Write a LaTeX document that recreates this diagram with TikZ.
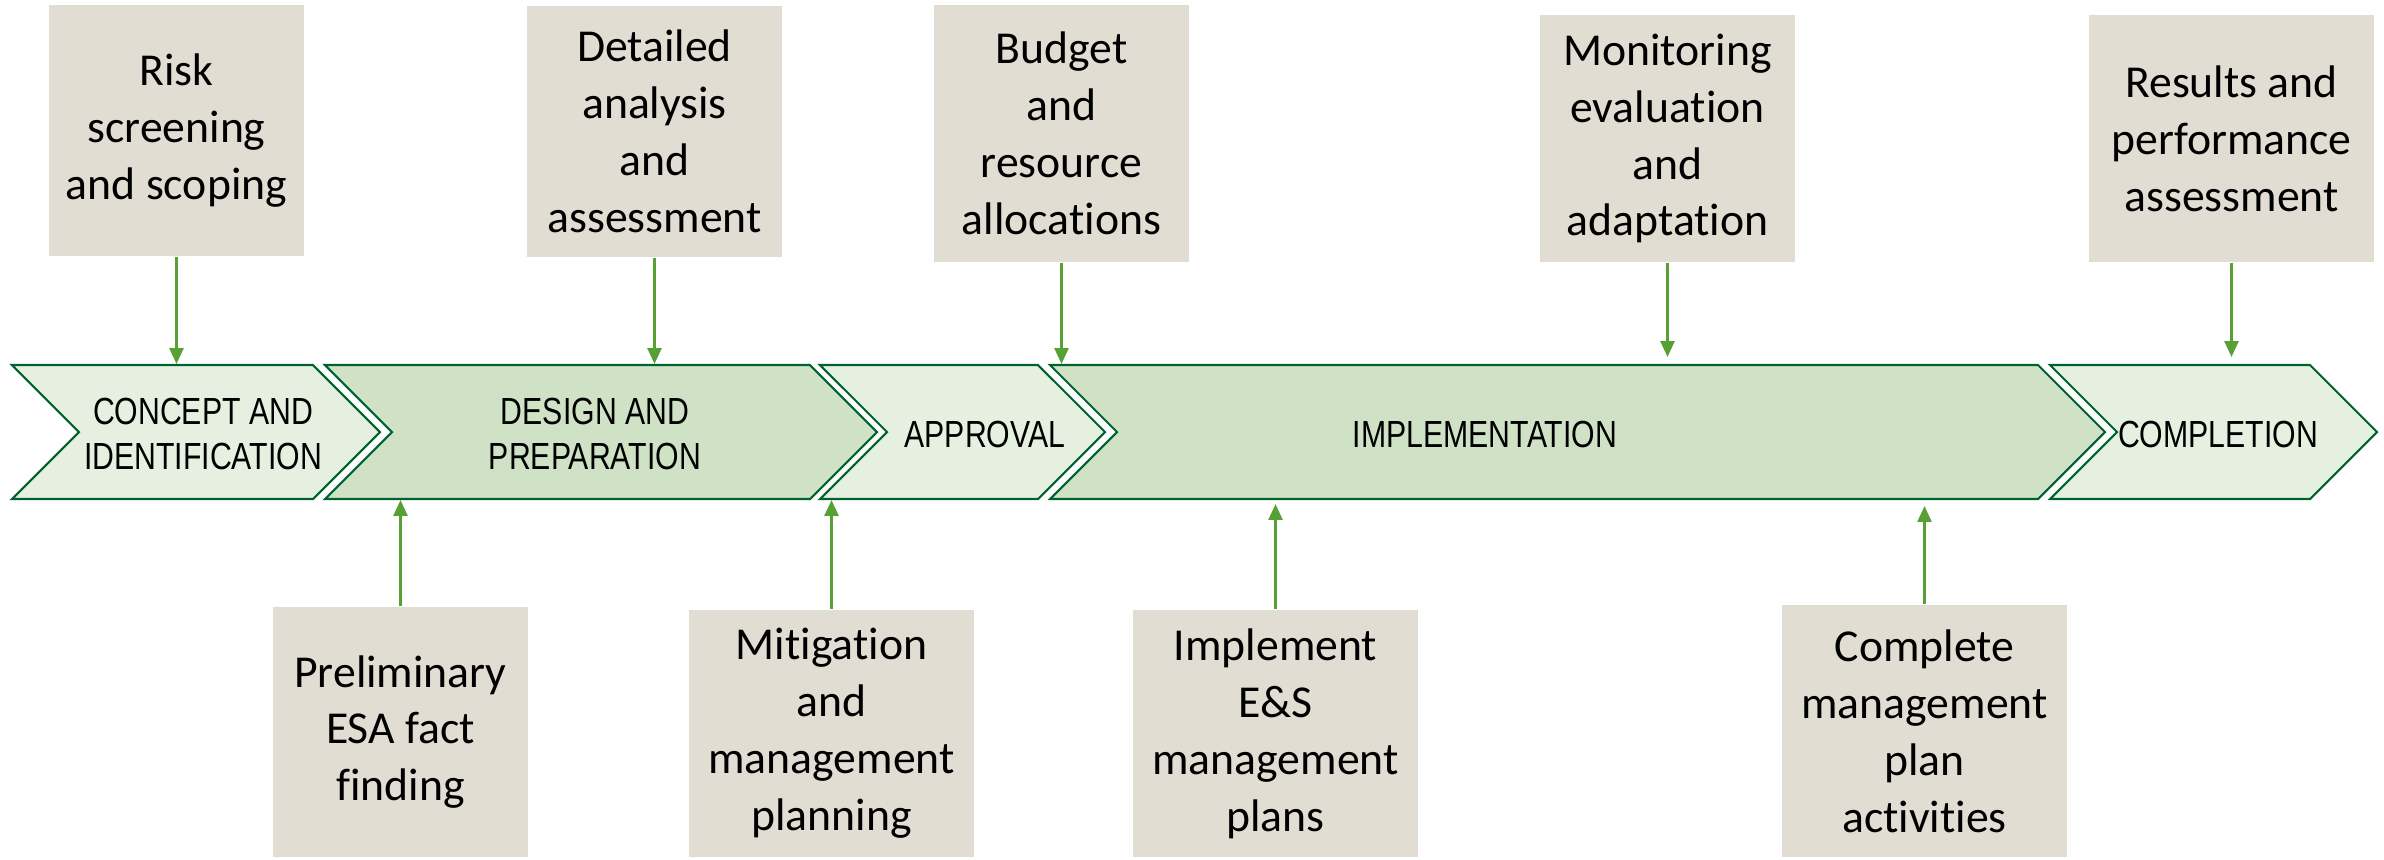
\documentclass[tikz,border=0pt]{standalone}
\usepackage{fontspec}
\setmainfont{Carlito}[Ligatures=NoCommon]
\newfontfamily\chevfont[FakeStretch=0.8]{Liberation Sans}
\usetikzlibrary{shapes.symbols,arrows.meta}

\definecolor{boxfill}{RGB}{226,221,210}
\definecolor{chevlight}{RGB}{229,240,224}
\definecolor{chevdark}{RGB}{207,226,197}
\definecolor{chevline}{RGB}{0,98,48}
\definecolor{arrowgreen}{RGB}{86,160,52}

\begin{document}
\begin{tikzpicture}[
    task/.style={fill=boxfill, minimum width=2.55cm, align=center, inner sep=0pt, font=\fontsize{13}{16.2}\selectfont},
    widetask/.style={task, minimum width=2.85cm},
    phase/.style={signal, signal to=east, signal from=west, draw=chevline, line width=0.6pt, minimum height=1.34cm, inner sep=0pt},
    plabel/.style={font=\chevfont\fontsize{10.75}{12.8}\selectfont, align=center},
    flow/.style={draw=arrowgreen, line width=0.6pt, -{Triangle[width=4pt,length=4.5pt]}},
]

\useasboundingbox (0,0) rectangle (23.84,-8.59);

% Phases
\node[phase, fill=chevlight, minimum width=3.68cm] (c1) at (1.96,-4.32) {};
\node[phase, fill=chevdark, minimum width=5.52cm] (c2) at (6.01,-4.32) {};
\node[phase, fill=chevlight, minimum width=2.85cm] (c3) at (9.625,-4.32) {};
\node[phase, fill=chevdark, minimum width=10.55cm] (c4) at (15.775,-4.32) {};
\node[phase, fill=chevlight, minimum width=3.27cm] (c5) at (22.135,-4.32) {};

% Phase labels
\node[plabel] (l1) at (2.03,-4.34) {CONCEPT AND\\IDENTIFICATION};
\node[plabel] (l2) at (5.95,-4.34) {DESIGN AND\\PREPARATION};
\node[plabel] (l3) at (9.85,-4.34) {APPROVAL};
\node[plabel] (l4) at (14.85,-4.34) {IMPLEMENTATION};
\node[plabel] (l5) at (22.18,-4.34) {COMPLETION};

% Top boxes
\node[task, minimum height=2.51cm] (b1) at (1.765,-1.305) {Risk\\screening\\and scoping};
\node[task, minimum height=2.51cm] (b2) at (6.545,-1.315) {Detailed\\analysis\\and\\assessment};
\node[task, minimum height=2.57cm] (b3) at (10.615,-1.335) {Budget\\and\\resource\\allocations};
\node[task, minimum height=2.47cm] (b4) at (16.675,-1.385) {Monitoring\\evaluation\\and\\adaptation};
\node[widetask, minimum height=2.47cm] (b5) at (22.315,-1.385) {Results and\\performance\\assessment};

% Bottom boxes
\node[task, minimum height=2.50cm] (b6) at (4.005,-7.32) {Preliminary\\ESA fact\\finding};
\node[widetask, minimum height=2.47cm] (b7) at (8.315,-7.335) {Mitigation\\and\\management\\planning};
\node[widetask, minimum height=2.47cm] (b8) at (12.755,-7.335) {Implement\\E\&S\\management\\plans};
\node[widetask, minimum height=2.52cm] (b9) at (19.245,-7.31) {Complete\\management\\plan\\activities};

% Arrows
\foreach \b/\c/\s in {b1/c1/0, b2/c2/0, b3/c4/0, b4/c4/0.07, b5/c5/0.07} {
    \draw[flow, shorten >=\s cm] (\b.south) -- (\b.south |- \c.north);
}
\foreach \b/\c/\s in {b6/c2/0, b7/c3/0, b8/c4/0.04, b9/c4/0.06} {
    \draw[flow, shorten >=\s cm] (\b.north) -- (\b.north |- \c.south);
}

\end{tikzpicture}
\end{document}
